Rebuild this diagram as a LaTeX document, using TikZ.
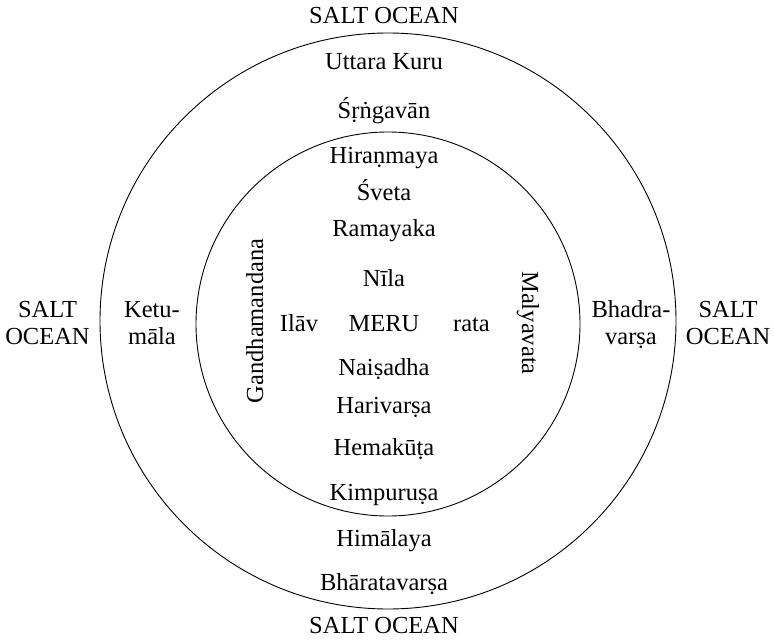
\documentclass[tikz,border=0pt]{standalone}
\usepackage{fontspec}
\setmainfont{Liberation Serif}
\tikzset{
  lbl/.style={font=\fontsize{24.5}{27}\selectfont, inner sep=0pt, anchor=base},
  ring/.style={draw=black, line width=0.9pt}
}
\begin{document}
\begin{tikzpicture}[x=1pt,y=-1pt]
\useasboundingbox (0,0) rectangle (774,642);
\draw[ring] (388,321) circle[radius=288pt];
\draw[ring] (388,324) circle[radius=192pt];
% top to bottom
\node[lbl] (so1) at (384,24) {SALT OCEAN};
\node[lbl] (uk) at (384,70) {Uttara Kuru};
\node[lbl] (sr) at (384,118) {Śṛṅgavān};
\node[lbl] (hi) at (384,163) {Hiraṇmaya};
\node[lbl] (sv) at (384,200.5) {Śveta};
\node[lbl] (ra) at (384,236) {Ramayaka};
\node[lbl] (ni) at (384,286.5) {Nīla};
\node[lbl] (il) at (299,331.5) {Ilāv};
\node[lbl] (me) at (384,331.5) {MERU};
\node[lbl] (rt) at (471.5,331.5) {rata};
\node[lbl] (na) at (384,375) {Naiṣadha};
\node[lbl] (hv) at (384,413) {Harivarṣa};
\node[lbl] (hk) at (384,455) {Hemakūṭa};
\node[lbl] (ki) at (384,500) {Kimpuruṣa};
\node[lbl] (hm) at (384,546) {Himālaya};
\node[lbl] (bh) at (384,590) {Bhāratavarṣa};
\node[lbl] (so2) at (384,633) {SALT OCEAN};
% sides
\node[lbl] (sl1) at (47.5,317) {SALT};
\node[lbl] (sl2) at (47.5,344) {OCEAN};
\node[lbl] (ke1) at (152,317) {Ketu-};
\node[lbl] (ke2) at (152,344) {māla};
\node[lbl] (bd1) at (631,317) {Bhadra-};
\node[lbl] (bd2) at (631,344) {varṣa};
\node[lbl] (sr1) at (728,317) {SALT};
\node[lbl] (sr2) at (728,344) {OCEAN};
\node[lbl, rotate=90] (ga) at (263,321) {Gandhamandana};
\node[lbl, rotate=-90] (ma) at (522,323) {Malyavata};
\end{tikzpicture}
\end{document}
